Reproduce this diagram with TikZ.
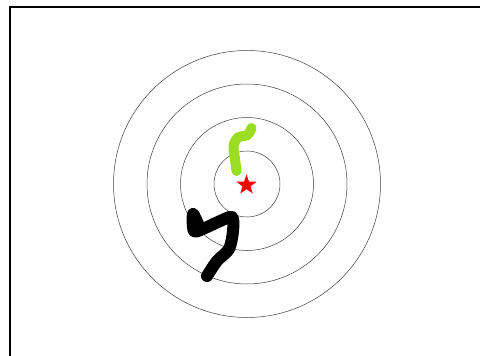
\documentclass[tikz,border=0pt]{standalone}
\usetikzlibrary{shapes.geometric}
\definecolor{limegreen}{RGB}{155,221,34}
\begin{document}
\begin{tikzpicture}[x=1pt, y=-1pt, line width=0.5pt]
  \useasboundingbox (0,0) rectangle (480,356);
  \draw[line width=2pt] (9.5,356) -- (9.5,7) -- (480,7);
  \foreach \r in {33,66.5,100,133.5}
    \draw[black!75] (247,184) circle (\r pt);
  \node (bull) [star, star points=5, star point ratio=2.5, minimum size=21pt, inner sep=0pt, fill=red] at (246.5,185) {};
  \draw[limegreen, line width=10pt, line cap=round, line join=round]
    plot[smooth] coordinates {(251.5,128) (247.5,135) (238,137.5) (233.5,146) (235,159) (236.5,171)};
  \draw[black, line width=12pt, line cap=round, line join=round]
    plot[smooth] coordinates {(198,224) (193,214) (194,231) (205,228) (218,222) (232,217) (233,231) (229,249) (217,261) (207,276)};
\end{tikzpicture}
\end{document}
